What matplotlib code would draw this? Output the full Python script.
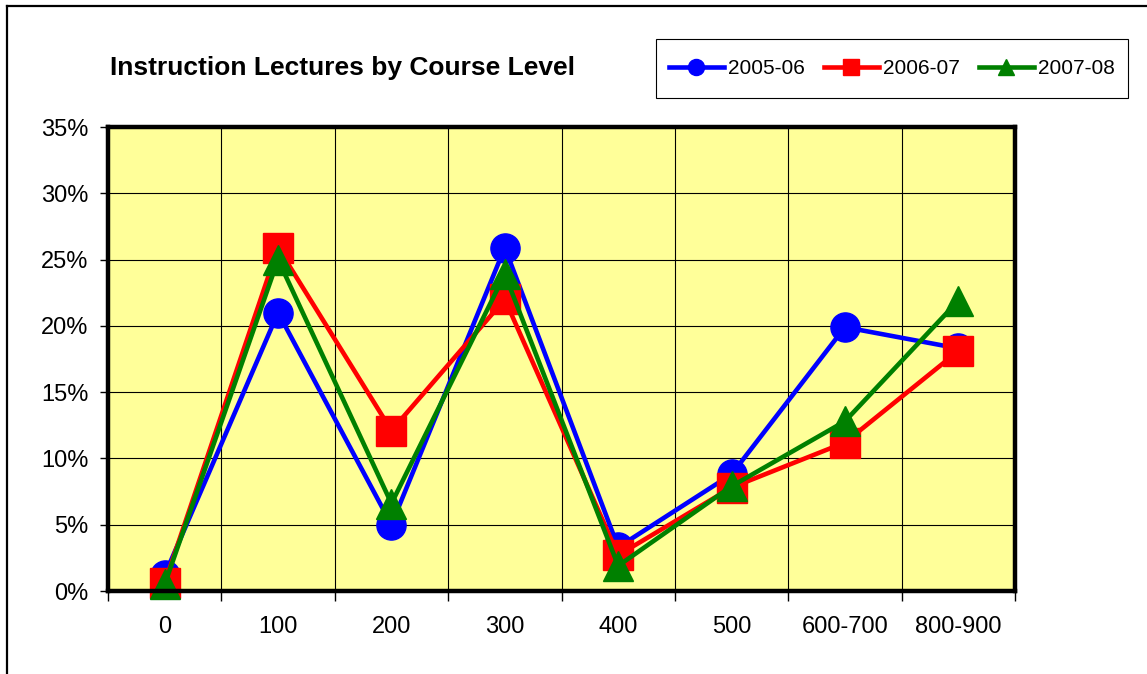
import matplotlib.pyplot as plt
from matplotlib.lines import Line2D
from matplotlib.patches import Rectangle
from matplotlib.ticker import FixedLocator, FuncFormatter

plt.rcParams["font.family"] = ["Liberation Sans", "DejaVu Sans"]

levels = ["0", "100", "200", "300", "400", "500", "600-700", "800-900"]
y2005 = [1.2, 21.0, 5.0, 25.9, 3.3, 8.8, 19.9, 18.3]
y2006 = [0.6, 25.9, 12.1, 22.0, 2.7, 7.8, 11.2, 18.1]
y2007 = [0.5, 25.0, 6.6, 23.9, 1.9, 7.9, 12.8, 21.9]

series = [
    ("2005-06", y2005, "#0000FF", "o"),
    ("2006-07", y2006, "#FF0000", "s"),
    ("2007-08", y2007, "#008000", "^"),
]

W, H = 1147, 674
fig = plt.figure(figsize=(W / 100, H / 100), dpi=100)
ax = fig.add_axes([108 / W, 1 - 591 / H, (1015 - 108) / W, (591 - 127) / H])
ax.set_facecolor("#FFFF99")

x = list(range(len(levels)))
for name, vals, col, mk in series:
    ax.plot(x, vals, color=col, lw=3.3, marker=mk, ms=21, mec=col, mfc=col,
            label=name, clip_on=False, zorder=3)

ax.set_xlim(-0.5, len(levels) - 0.5)
ax.set_ylim(0, 35)
ax.set_yticks(range(0, 36, 5))
ax.yaxis.set_major_formatter(FuncFormatter(lambda v, p: f"{v:.0f}%"))
ax.set_xticks(x)
ax.set_xticklabels(levels)
ax.xaxis.set_minor_locator(FixedLocator([i - 0.5 for i in range(len(levels) + 1)]))
ax.tick_params(axis="x", which="major", length=0, pad=18, labelsize=17)
ax.tick_params(axis="x", which="minor", length=7, width=1, direction="out")
ax.tick_params(axis="y", which="major", length=6, width=1, direction="out", pad=8, labelsize=17)
ax.grid(True, axis="y", which="major", color="black", lw=0.8)
ax.grid(True, axis="x", which="minor", color="black", lw=0.8)
ax.set_axisbelow(True)
for sp in ax.spines.values():
    sp.set_linewidth(3.2)
    sp.set_zorder(4)

fig.text(110 / W, 1 - 68 / H, "Instruction Lectures by Course Level",
         fontsize=19, fontweight="bold", ha="left", va="center")

# legend box drawn separately so its padding matches the original
fig.add_artist(Rectangle((656 / W, 1 - 98 / H), (1128 - 656) / W, (98 - 39) / H,
                         transform=fig.transFigure, fill=False, ec="black", lw=0.8))
fig.legend(loc="center", bbox_to_anchor=(892 / W, 1 - 68.5 / H), ncol=3,
           fontsize=15, markerscale=0.55, handlelength=2.6, handletextpad=0.2,
           columnspacing=0.95, frameon=False, borderpad=0.2)

# outer chart border
fig.add_artist(Line2D([7 / W, 7 / W], [0, 1 - 6 / H], color="black", lw=1.6))
fig.add_artist(Line2D([7 / W, 1], [1 - 6 / H, 1 - 6 / H], color="black", lw=1.6))

fig.savefig("out.png", dpi=100)
